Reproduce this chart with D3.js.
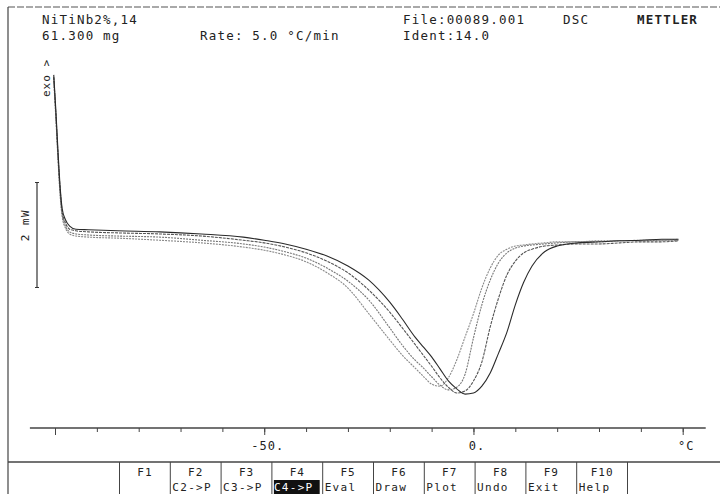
<!DOCTYPE html>
<html lang="en">
<head>
  <meta charset="UTF-8">
  <title>DSC NiTiNb2%</title>
  <script src="https://cdn.jsdelivr.net/npm/d3@7/dist/d3.min.js"></script>
  <style>
    body { margin: 0; background: #fff; }
    svg { display: block; }
    text { font-family: 'DejaVu Sans Mono', monospace; fill: #222; }
  </style>
</head>
<body>
  <svg width="720" height="494"></svg>

  <script>
    // temperatures (°C) sampled along the traces
    const temps = [-100.3, -99.8, -99.3, -98.8, -98.3, -97.5, -96.5, -95, -92, -85, -75, -65, -55, -50, -45,
      -40, -35, -30, -25, -20, -17, -14, -12, -10, -8, -6, -4, -2, 0, 2, 4, 6, 8, 10, 12, 14, 17, 20, 25, 30,
      35, 40, 45, 49]

    // heat flow (mW, relative) for the four runs
    const run1 = [3.05, 2.38, 1.62, 0.95, 0.51, 0.29, 0.17, 0.11, 0.10, 0.08, 0.06, 0.02, -0.04, -0.10, -0.17,
      -0.27, -0.40, -0.59, -0.86, -1.28, -1.60, -1.94, -2.13, -2.32, -2.55, -2.78, -2.93, -3.03, -3.01, -2.88,
      -2.63, -2.25, -1.85, -1.33, -0.90, -0.59, -0.32, -0.21, -0.15, -0.13, -0.11, -0.10, -0.08, -0.08]
    const run2 = [3.01, 2.32, 1.56, 0.90, 0.46, 0.23, 0.11, 0.08, 0.06, 0.04, 0.02, -0.02, -0.10, -0.15, -0.23,
      -0.34, -0.50, -0.72, -1.05, -1.47, -1.77, -2.08, -2.29, -2.50, -2.72, -2.90, -3.01, -2.97, -2.78, -2.42,
      -1.75, -1.20, -0.76, -0.50, -0.34, -0.27, -0.21, -0.19, -0.17, -0.17, -0.15, -0.13, -0.13, -0.11]
    const run3 = [2.99, 2.27, 1.50, 0.82, 0.40, 0.17, 0.06, 0.02, 0, -0.02, -0.04, -0.10, -0.17, -0.23, -0.32,
      -0.44, -0.63, -0.88, -1.24, -1.77, -2.10, -2.38, -2.53, -2.70, -2.86, -2.95, -2.90, -2.65, -1.96, -1.33,
      -0.86, -0.53, -0.34, -0.25, -0.21, -0.19, -0.17, -0.15, -0.13, -0.13, -0.11, -0.11, -0.10, -0.10]
    const run4 = [2.95, 2.23, 1.47, 0.78, 0.36, 0.13, 0.02, -0.02, -0.04, -0.06, -0.10, -0.15, -0.23, -0.29, -0.38,
      -0.51, -0.72, -1.01, -1.50, -2.00, -2.29, -2.53, -2.69, -2.84, -2.88, -2.72, -2.38, -1.94, -1.50, -1.01,
      -0.63, -0.38, -0.27, -0.21, -0.19, -0.17, -0.15, -0.13, -0.13, -0.11, -0.11, -0.10, -0.10, -0.08]

    const minorTicks = d3.range(-100, 51, 10)
    const majorTicks = [-100, -50, 0, 50]
    const majorLabels = ['', '-50.', '0.', '°C']

    const fKeys = ['F1', 'F2', 'F3', 'F4', 'F5', 'F6', 'F7', 'F8', 'F9', 'F10']
    const fActions = ['', 'C2->P', 'C3->P', 'C4->P', 'Eval', 'Draw', 'Plot', 'Undo', 'Exit', 'Help']

    onload = () => {
      const svg = d3.select('svg')

      const xScale = d3.scaleLinear()
        .domain([-100, 50])
        .range([55, 682.7])

      const yScale = d3.scaleLinear()
        .domain([-3.5, 3.5])
        .range([418.75, 51.25])

      // frame
      svg.append('line')
        .attr('x1', 8).attr('x2', 720).attr('y1', 7).attr('y2', 7)
        .attr('stroke', '#555').attr('stroke-width', 1.2).attr('stroke-dasharray', '7,2')
      svg.append('line')
        .attr('x1', 8).attr('x2', 8).attr('y1', 7).attr('y2', 494)
        .attr('stroke', '#444').attr('stroke-width', 1.2)

      // header
      const header = svg.append('g')
        .attr('font-size', 12.5)
        .attr('letter-spacing', 1.2)
      header.append('text').attr('x', 42).attr('y', 24).text('NiTiNb2%,14')
      header.append('text').attr('x', 42).attr('y', 40).text('61.300 mg')
      header.append('text').attr('x', 200).attr('y', 40).text('Rate: 5.0 °C/min')
      header.append('text').attr('x', 403).attr('y', 24).text('File:00089.001')
      header.append('text').attr('x', 403).attr('y', 40).text('Ident:14.0')
      header.append('text').attr('x', 563).attr('y', 24).text('DSC')
      header.append('text').attr('x', 637).attr('y', 24).attr('font-weight', 'bold').text('METTLER')

      // exo marker and 2 mW scale bar
      svg.append('text')
        .attr('transform', 'translate(50, 97) rotate(-90)')
        .attr('font-size', 11)
        .attr('letter-spacing', 1)
        .text('exo >')

      svg.append('line')
        .attr('x1', 37).attr('x2', 37)
        .attr('y1', yScale(1)).attr('y2', yScale(-1))
        .attr('stroke', '#333').attr('stroke-width', 1.2)
      svg.selectAll('.cap')
        .data([1, -1])
        .enter()
        .append('line')
        .attr('x1', 35).attr('x2', 39)
        .attr('y1', d => yScale(d)).attr('y2', d => yScale(d))
        .attr('stroke', '#333')
      svg.append('text')
        .attr('transform', `translate(29, ${yScale(0) - 10}) rotate(-90)`)
        .attr('text-anchor', 'middle')
        .attr('font-size', 11)
        .attr('letter-spacing', 1.5)
        .text('2 mW')

      // curves
      const line = d3.line()
        .x(d => xScale(d[0]))
        .y(d => yScale(d[1]))
        .curve(d3.curveMonotoneX)

      const runs = [
        { values: run4, color: '#8a8a8a', dash: '2,1' },
        { values: run3, color: '#777', dash: '2,1' },
        { values: run2, color: '#555', dash: '3,1' },
        { values: run1, color: '#2a2a2a', dash: null }
      ]

      svg.selectAll('.run')
        .data(runs)
        .enter()
        .append('path')
        .attr('class', 'run')
        .attr('fill', 'none')
        .attr('stroke', d => d.color)
        .attr('stroke-width', 1.1)
        .attr('stroke-dasharray', d => d.dash)
        .attr('d', d => line(temps.map((t, i) => [t, d.values[i]])))

      // temperature axis
      const axisY = 428
      svg.append('line')
        .attr('x1', xScale(-106)).attr('x2', xScale(55.5))
        .attr('y1', axisY).attr('y2', axisY)
        .attr('stroke', '#444').attr('stroke-width', 1.3)

      const minor = svg.append('g')
        .attr('transform', `translate(0, ${axisY})`)
        .call(d3.axisBottom(xScale).tickValues(minorTicks).tickSize(4).tickFormat(''))
      minor.select('.domain').remove()
      minor.selectAll('line').attr('stroke', '#444')

      const major = svg.append('g')
        .attr('transform', `translate(0, ${axisY})`)
        .call(d3.axisBottom(xScale).tickValues(majorTicks).tickSize(7)
          .tickFormat((d, i) => majorLabels[i]))
      major.select('.domain').remove()
      major.selectAll('line').attr('stroke', '#444')
      major.selectAll('text')
        .attr('font-family', "'DejaVu Sans Mono', monospace")
        .attr('font-size', 12)
        .attr('letter-spacing', 1)
        .attr('fill', '#222')
        .attr('y', 13)
        .attr('dx', 3)

      // function key bar
      const barTop = 462
      svg.append('line')
        .attr('x1', 8).attr('x2', 720).attr('y1', barTop).attr('y2', barTop)
        .attr('stroke', '#444').attr('stroke-width', 1.3)

      const keys = d3.scaleBand()
        .domain(fKeys)
        .range([119.5, 627.5])

      svg.selectAll('.divider')
        .data(fKeys.concat(['end']))
        .enter()
        .append('line')
        .attr('x1', (d, i) => i < fKeys.length ? keys(d) : keys.range()[1])
        .attr('x2', (d, i) => i < fKeys.length ? keys(d) : keys.range()[1])
        .attr('y1', barTop).attr('y2', 494)
        .attr('stroke', '#444')

      svg.selectAll('.fkey')
        .data(fKeys)
        .enter()
        .append('text')
        .attr('x', d => keys(d) + keys.bandwidth() / 2)
        .attr('y', barTop + 14)
        .attr('text-anchor', 'middle')
        .attr('font-size', 11)
        .attr('letter-spacing', 1)
        .text(d => d)

      svg.append('rect')
        .attr('x', keys('F4') + 2)
        .attr('y', barTop + 18)
        .attr('width', keys.bandwidth() - 5)
        .attr('height', 14)
        .attr('fill', '#111')

      svg.selectAll('.faction')
        .data(fActions)
        .enter()
        .append('text')
        .attr('x', (d, i) => keys(fKeys[i]) + 2)
        .attr('y', barTop + 29)
        .attr('font-size', 11)
        .attr('letter-spacing', 1.3)
        .style('fill', (d, i) => fKeys[i] === 'F4' ? '#fff' : '#222')
        .text(d => d)
    }
  </script>
</body>
</html>
